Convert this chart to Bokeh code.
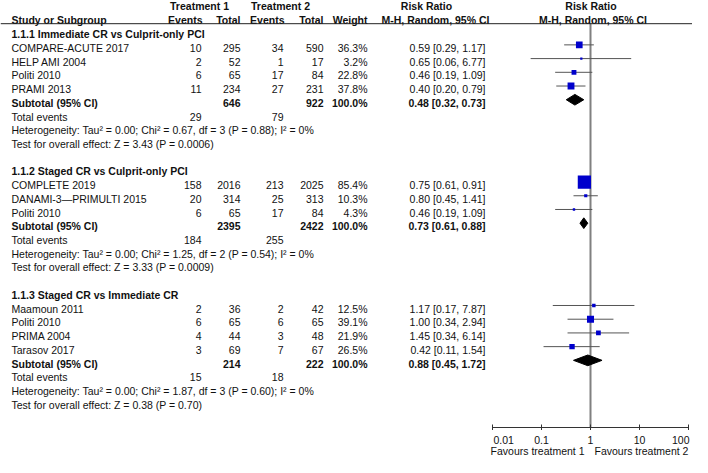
from bokeh.plotting import figure
from bokeh.models import ColumnDataSource, Range1d, LogScale, LogAxis, FixedTicker, Span
from bokeh.layouts import column
from bokeh.core.properties import value
from bokeh.embed import file_html
from bokeh.resources import INLINE

# ---------------- data ----------------
titles = ["1.1.1 Immediate CR vs Culprit-only PCI",
          "1.1.2 Staged CR vs Culprit-only PCI",
          "1.1.3 Staged CR vs Immediate CR"]

names = [["COMPARE-ACUTE 2017", "HELP AMI 2004", "Politi 2010", "PRAMI 2013"],
         ["COMPLETE 2019", "DANAMI-3\u2014PRIMULTI 2015", "Politi 2010"],
         ["Maamoun 2011", "Politi 2010", "PRIMA 2004", "Tarasov 2017"]]
events1 = [[10, 2, 6, 11], [158, 20, 6], [2, 6, 4, 3]]
total1 = [[295, 52, 65, 234], [2016, 314, 65], [36, 65, 44, 69]]
events2 = [[34, 1, 17, 27], [213, 25, 17], [2, 6, 3, 7]]
total2 = [[590, 17, 84, 231], [2025, 313, 84], [42, 65, 48, 67]]
weights = [[36.3, 3.2, 22.8, 37.8], [85.4, 10.3, 4.3], [12.5, 39.1, 21.9, 26.5]]
rr = [[0.59, 0.65, 0.46, 0.40], [0.75, 0.80, 0.46], [1.17, 1.00, 1.45, 0.42]]
rr_lo = [[0.29, 0.06, 0.19, 0.20], [0.61, 0.45, 0.19], [0.17, 0.34, 0.34, 0.11]]
rr_hi = [[1.17, 6.77, 1.09, 0.79], [0.91, 1.41, 1.09], [7.87, 2.94, 6.14, 1.54]]

sub_total1 = [646, 2395, 214]
sub_total2 = [922, 2422, 222]
sub_weight = ["100.0%", "100.0%", "100.0%"]
sub_rr = [0.48, 0.73, 0.88]
sub_lo = [0.32, 0.61, 0.45]
sub_hi = [0.73, 0.88, 1.72]
sub_events1 = [29, 184, 15]
sub_events2 = [79, 255, 18]
het_tau2 = [0.00, 0.00, 0.00]
het_chi2 = [0.67, 1.25, 1.87]
het_df = [3, 2, 3]
het_p = ["0.88", "0.54", "0.60"]
het_i2 = [0, 0, 0]
z_val = [3.43, 3.33, 0.38]
z_p = ["0.0006", "0.0009", "0.70"]

tick_values = [0.01, 0.1, 1, 10, 100]
tick_labels = ["0.01", "0.1", "1", "10", "100"]
favours = ["Favours treatment 1", "Favours treatment 2"]

# ---------------- layout constants ----------------
FONT = value("Liberation Sans")
FS = "10.5px"
TXT = "#111111"
W = 692
X_NAME, X_E1, X_N1, X_E2, X_N2, X_W, X_RR = 11, 201, 240, 283, 323, 367, 485
MARK_DY = -0.23
DIAMOND_H = 0.39
Y_TOP_HDR, Y_SUB_HDR, Y_RULE = -2.04, -1.056, -0.774
Y_TOP, Y_BOTTOM = -2.465, 28.665

rr_range = Range1d(10 ** -12.041, 10 ** 2.0816)

p = figure(frame_width=W, frame_height=427,
           x_range=Range1d(0, W), y_range=Range1d(Y_BOTTOM, Y_TOP),
           x_axis_location=None, y_axis_location=None,
           toolbar_location=None, output_backend="svg",
           min_border=0, min_border_left=0, min_border_right=0,
           min_border_top=0, min_border_bottom=0,
           outline_line_color=None, background_fill_color="white",
           border_fill_color="white")
p.grid.visible = False
p.extra_x_ranges = {"rr": rr_range}
p.extra_x_scales = {"rr": LogScale()}

texts = {}  # key (align, bold) -> dict of lists


def add(x, y, t, align="right", bold=False):
    d = texts.setdefault((align, bold), {"x": [], "y": [], "t": []})
    d["x"].append(x)
    d["y"].append(y)
    d["t"].append(t)


# header
add(199, Y_TOP_HDR, "Treatment 1", "center", True)
add(280, Y_TOP_HDR, "Treatment 2", "center", True)
add(426, Y_TOP_HDR, "Risk Ratio", "center", True)
add(590.5, Y_TOP_HDR, "Risk Ratio", "center", True)
add(X_NAME, Y_SUB_HDR, "Study or Subgroup", "left", True)
add(X_E1 + 1, Y_SUB_HDR, "Events", "right", True)
add(X_N1, Y_SUB_HDR, "Total", "right", True)
add(X_E2 + 1, Y_SUB_HDR, "Events", "right", True)
add(X_N2, Y_SUB_HDR, "Total", "right", True)
add(X_W, Y_SUB_HDR, "Weight", "right", True)
add(435, Y_SUB_HDR, "M-H, Random, 95% CI", "center", True)
add(592.5, Y_SUB_HDR, "M-H, Random, 95% CI", "center", True)

st = {"x": [], "y": [], "s": [], "lo": [], "hi": []}
dm = {"xs": [], "ys": []}

k = 0
for si in range(len(titles)):
    add(X_NAME, k, titles[si], "left", True)
    k += 1
    for j in range(len(names[si])):
        add(X_NAME, k, names[si][j], "left")
        add(X_E1, k, str(events1[si][j]))
        add(X_N1, k, str(total1[si][j]))
        add(X_E2, k, str(events2[si][j]))
        add(X_N2, k, str(total2[si][j]))
        add(X_W, k, f"{weights[si][j]:.1f}%")
        add(X_RR, k, f"{rr[si][j]:.2f} [{rr_lo[si][j]:.2f}, {rr_hi[si][j]:.2f}]")
        st["x"].append(rr[si][j])
        st["y"].append(k + MARK_DY)
        st["s"].append(1.8 + 0.134 * weights[si][j])
        st["lo"].append(rr_lo[si][j])
        st["hi"].append(rr_hi[si][j])
        k += 1
    add(X_NAME, k, "Subtotal (95% CI)", "left", True)
    add(X_N1, k, str(sub_total1[si]), "right", True)
    add(X_N2, k, str(sub_total2[si]), "right", True)
    add(X_W, k, sub_weight[si], "right", True)
    add(X_RR, k, f"{sub_rr[si]:.2f} [{sub_lo[si]:.2f}, {sub_hi[si]:.2f}]", "right", True)
    yc = k + MARK_DY
    dm["xs"].append([sub_lo[si], sub_rr[si], sub_hi[si], sub_rr[si]])
    dm["ys"].append([yc, yc - DIAMOND_H, yc, yc + DIAMOND_H])
    k += 1
    add(X_NAME, k, "Total events", "left")
    add(X_E1, k, str(sub_events1[si]))
    add(X_E2, k, str(sub_events2[si]))
    k += 1
    add(X_NAME, k, (f"Heterogeneity: Tau\u00b2 = {het_tau2[si]:.2f}; Chi\u00b2 = {het_chi2[si]:.2f}, "
                    f"df = {het_df[si]} (P = {het_p[si]}); I\u00b2 = {het_i2[si]}%"), "left")
    k += 1
    add(X_NAME, k, f"Test for overall effect: Z = {z_val[si]:.2f} (P = {z_p[si]})", "left")
    k += 2

# header rule
p.add_layout(Span(location=Y_RULE, dimension="width", line_color="#222222", line_width=1))

# line of no effect
p.segment(x0=[1], x1=[1], y0=[Y_RULE], y1=[Y_BOTTOM], x_range_name="rr",
          line_color="#808080", line_width=2)

src = ColumnDataSource(st)
p.segment(x0="lo", x1="hi", y0="y", y1="y", source=src, x_range_name="rr",
          line_color="#555555", line_width=1)
p.scatter(x="x", y="y", size="s", marker="square", source=src, x_range_name="rr",
          fill_color="#0000CC", line_color=None)
p.patches(xs="xs", ys="ys", source=ColumnDataSource(dm), x_range_name="rr",
          fill_color="black", line_color="black", line_width=1)

for (align, bold), d in texts.items():
    p.text(x="x", y="y", text="t", source=ColumnDataSource(d),
           text_font=FONT, text_font_size=FS, text_color=TXT,
           text_align=align, text_baseline="middle",
           text_font_style="bold" if bold else "normal")

ax = LogAxis(x_range_name="rr", bounds=(0.01, 100),
             ticker=FixedTicker(ticks=tick_values, minor_ticks=[]),
             major_label_overrides={v: "" for v in tick_values},
             major_label_text_font_size="1px", major_label_standoff=0,
             axis_line_color="#333333", major_tick_line_color="#333333",
             major_tick_in=3, major_tick_out=3, minor_tick_in=0, minor_tick_out=0)
p.add_layout(ax, "below")

# lower strip with tick labels and "favours" captions
p2 = figure(frame_width=W, height=26, x_range=rr_range, y_range=Range1d(26, 0),
            x_axis_type="log", x_axis_location=None, y_axis_location=None,
            toolbar_location=None, output_backend="svg", min_border=0,
            outline_line_color=None, background_fill_color="white",
            border_fill_color="white")
p2.grid.visible = False
aligns = ["left"] + ["center"] * (len(tick_values) - 2) + ["right"]
offs = {"left": 1, "center": 0, "right": 1}
for al in ("left", "center", "right"):
    idx = [i for i, a in enumerate(aligns) if a == al]
    p2.text(x=[tick_values[i] for i in idx], y=[9.7] * len(idx),
            text=[tick_labels[i] for i in idx], x_offset=offs[al],
            text_font=FONT, text_font_size=FS, text_color=TXT,
            text_align=al, text_baseline="middle")
p2.text(x=[1], y=[20.5], text=[favours[0]], x_offset=-6, text_font=FONT, text_font_size=FS,
        text_color=TXT, text_align="right", text_baseline="middle")
p2.text(x=[1], y=[20.5], text=[favours[1]], x_offset=4, text_font=FONT, text_font_size=FS,
        text_color=TXT, text_align="left", text_baseline="middle")

layout = column(p, p2, spacing=0)
open("out.html", "w").write(file_html(layout, INLINE))
